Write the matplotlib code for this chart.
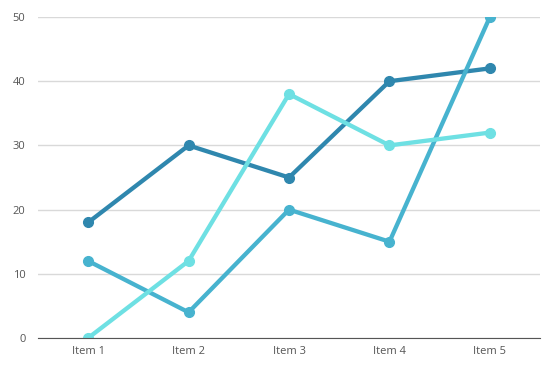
import numpy as np
import matplotlib.pyplot as plt

items = ["Item 1", "Item 2", "Item 3", "Item 4", "Item 5"]
series_dark = [18, 30, 25, 40, 42]
series_mid = [12, 4, 20, 15, 50]
series_light = [0, 12, 38, 30, 32]
y_ticks = [0, 10, 20, 30, 40, 50]

plt.rcParams['font.family'] = ['Open Sans', 'DejaVu Sans']

fig = plt.figure(figsize=(5.5, 3.7), dpi=100)
ax = fig.add_axes([0.069, 0.0865, 0.913, 0.8675])

x = np.arange(len(items))
ax.plot(x, series_dark, color="#2f87ae", lw=3.1, marker="o", ms=7, zorder=3)
ax.plot(x, series_mid, color="#47b3cf", lw=3.1, marker="o", ms=7, zorder=4)
ax.plot(x, series_light, color="#6ee0e3", lw=3.1, marker="o", ms=7, zorder=5)

ax.set_xlim(-0.5, 4.5)
ax.set_ylim(0, 50)
ax.set_xticks(x)
ax.set_xticklabels(items)
ax.set_yticks(y_ticks)
ax.grid(axis="y", color="#d9d9d9", lw=1)
ax.set_axisbelow(True)
for s in ["top", "right", "left"]:
    ax.spines[s].set_visible(False)
ax.spines["bottom"].set_color("#555555")
ax.spines["bottom"].set_zorder(6)
ax.tick_params(length=0, labelsize=8, colors="#555555", pad=6)
ax.tick_params(axis="y", pad=9)

fig.savefig("out.png", dpi=100)
